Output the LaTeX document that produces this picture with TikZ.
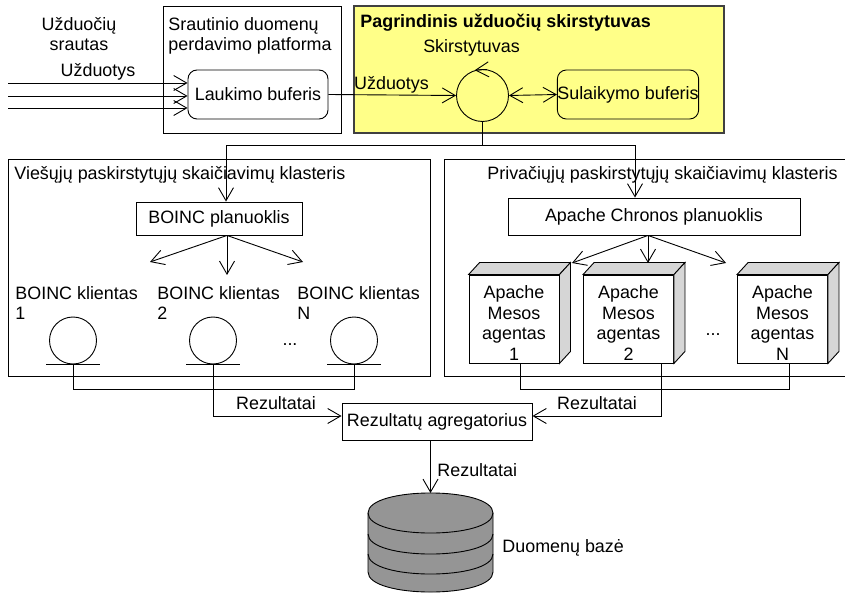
\documentclass[tikz,border=0pt]{standalone}
\usepackage{fontspec}
\setmainfont{Liberation Sans}
\usetikzlibrary{arrows.meta}

\definecolor{schedyellow}{HTML}{FFFF88}
\definecolor{boxgray}{HTML}{D6D6D6}
\definecolor{dbgray}{HTML}{959595}

\begin{document}
\begin{tikzpicture}[x=1pt, y=-1pt, line width=0.9pt,
  every node/.style={font=\fontsize{17.9}{20.5}\selectfont, inner sep=0pt},
  buf/.style={draw, rounded corners=9pt, minimum width=140pt, minimum height=49pt},
  plan/.style={draw, minimum height=35pt},
  agent/.style={draw, fill=white, minimum width=90pt, minimum height=88pt},
  client/.style={draw, circle, minimum size=47pt},
  openarr/.style={-{Straight Barb[length=13pt,width=15pt]}},
  twoarr/.style={{Straight Barb[length=13pt,width=15pt]}-{Straight Barb[length=13pt,width=15pt]}}]

  \useasboundingbox (0,0) rectangle (845,593);

  % stream side
  \node[align=center] (stream) at (79, 34) {Užduočių\\srautas};
  \node (jobs1) at (98, 72) {Užduotys};
  \node[draw, minimum width=178pt, minimum height=127pt] (platform) at (252, 69.5) {};
  \node[anchor=west, align=left] (platttl) at (168, 36) {Srautinio duomenų\\perdavimo platforma};
  \node[buf] (wait) at (258, 94.5) {Laukimo buferis};

  % main scheduler
  \node[draw=black!75, line width=1.6pt, fill=schedyellow, minimum width=370pt, minimum height=127pt] (sched) at (539, 69.5) {};
  \node[anchor=west, font=\fontsize{17.9}{20.5}\selectfont\bfseries] (schedttl) at (360, 23) {Pagrindinis užduočių skirstytuvas};
  \node[circle, draw, minimum size=52pt] (skr) at (482.5, 95.5) {};
  \node (skrlbl) at (471.5, 48) {Skirstytuvas};
  \node[buf] (hold) at (628, 94.5) {Sulaikymo buferis};
  \node (jobs2) at (391.5, 85) {Užduotys};

  \foreach \y [count=\i] in {83, 96, 108} {
    \coordinate (in\i) at (8, \y);
    \draw[openarr] (in\i) -- (in\i -| wait.west);
  }
  \draw[openarr] (wait.east) -- (skr.west);
  \draw[twoarr] (skr.east) -- (hold.west);
  \draw[openarr] (skr.80) -- (skr.107);

  % clusters
  \node[draw, minimum width=422pt, minimum height=217pt] (pub) at (219, 267.5) {};
  \draw (845,159) -- (444,159) -- (444,376) -- (845,376);
  \node[anchor=west] (pubttl) at (14, 175) {Viešųjų paskirstytųjų skaičiavimų klasteris};
  \node[anchor=east] (privttl) at (838, 175) {Privačiųjų paskirstytųjų skaičiavimų klasteris};

  \node[plan, minimum width=166pt, minimum height=33pt] (boinc) at (219, 218.5) {BOINC planuoklis};
  \node[plan, minimum width=292pt, minimum height=37pt] (chronos) at (654, 216.5) {Apache Chronos planuoklis};

  \coordinate (pubin) at (226, 145);
  \coordinate (privin) at (635, 145);
  \draw[openarr] (skr.south) |- (pubin) -- (pubin |- boinc.north);
  \draw[openarr] (skr.south) |- (privin) -- (privin |- chronos.north);

  % BOINC clients
  \foreach \n/\x/\lx/\t in {c1/73/15/1, c2/213/157/2, c3/354/297/N} {
    \node[client] (\n) at (\x, 340.5) {};
    \draw (\x-27, 364) -- (\x+27, 364);
    \node[anchor=west, align=left] at (\lx, 303) {BOINC klientas\\\t};
  }
  \node (dotsl) at (290, 345) {...};
  \foreach \tx/\ty [count=\i] in {150/262, 227/275, 303/262} {
    \coordinate (bt\i) at (\tx, \ty);
    \draw[openarr] ([xshift=8pt]boinc.south) -- (bt\i);
  }

  % Mesos agents
  \foreach \n/\x/\t in {a1/514/1, a2/628.5/2, aN/782.5/N} {
    \node[agent] (\n) at (\x, 319) {};
    \node[align=center] (\n t) at (\x, 323) {Apache\\Mesos\\agentas\\\t};
    \draw[fill=boxgray] (\n.north west) -- ++(11,-12) -- ([shift={(11,-12)}]\n.north east) -- (\n.north east) -- cycle;
    \draw[fill=boxgray] (\n.north east) -- ++(11,-12) -- ([shift={(11,-12)}]\n.south east) -- (\n.south east) -- cycle;
  }
  \node (dotsr) at (713, 335) {...};
  \foreach \tx/\ty [count=\i] in {572/263, 648/263, 726/263} {
    \coordinate (ct\i) at (\tx, \ty);
    \draw[openarr] ([xshift=-6pt]chronos.south) -- (ct\i);
  }

  % results
  \node[plan, minimum width=190pt, minimum height=37pt] (agg) at (437, 421.5) {Rezultatų agregatorius};
  \coordinate (lbus) at (213, 389);
  \coordinate (aggl) at (213, 416);
  \draw (c1.south) -- (c1.south |- lbus) -- (c3.south |- lbus) -- (c3.south);
  \draw (c2.south) -- (lbus);
  \draw[openarr] (lbus) -- (aggl) -- (aggl -| agg.west);

  \coordinate (rb1) at (520, 389);
  \coordinate (rb2) at (661, 389);
  \coordinate (rbN) at (789, 389);
  \coordinate (aggr) at (661, 416);
  \draw (rb1 |- a1.south) -- (rb1) -- (rbN) -- (rbN |- aN.south);
  \draw (rb2 |- a2.south) -- (rb2);
  \draw[openarr] (rb2) -- (aggr) -- (aggr -| agg.east);

  \node (resl) at (276, 403) {Rezultatai};
  \node (resr) at (597, 403) {Rezultatai};

  % database
  \coordinate (db) at (430.5, 493);
  \draw[openarr] (agg.south -| db) -- (db);
  \node[anchor=west] (resd) at (437, 470) {Rezultatai};
  \filldraw[fill=dbgray] (368,513) -- (368,572) .. controls (368,598.7) and (493,598.7) .. (493,572)
    -- (493,513) .. controls (493,486.3) and (368,486.3) .. (368,513) -- cycle;
  \foreach \y in {513, 534, 554}
    \draw (368,\y) .. controls (368,\y+26.7) and (493,\y+26.7) .. (493,\y);
  \node[anchor=west] (dblbl) at (502, 548) {Duomenų bazė};

\end{tikzpicture}
\end{document}
